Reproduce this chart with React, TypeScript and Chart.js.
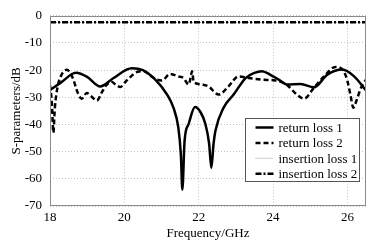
import React, { useEffect, useRef } from "react";
import { Chart, registerables } from "chart.js";

Chart.register(...registerables);

const seriesLabels = ["return loss 1", "return loss 2", "insertion loss 1", "insertion loss 2"];

const rl1Freq = [18.0, 18.3, 18.7, 19.0, 19.35, 19.7, 20.2, 20.5, 20.8, 21.15, 21.32, 21.45, 21.52, 21.56, 21.62, 21.73, 21.9, 22.05, 22.18, 22.28, 22.34, 22.4, 22.45, 22.67, 22.94, 23.26, 23.5, 23.7, 23.93, 24.15, 24.38, 24.74, 25.1, 25.46, 25.86, 26.18, 26.5];
const rl1Vals = [-27.4, -24.5, -21.0, -22.5, -26.0, -23.0, -19.3, -20.0, -23.0, -29.0, -33.8, -41, -51, -64, -46, -39.8, -33.6, -35.5, -39.8, -47, -56, -47, -42.3, -33.8, -29, -22.9, -21, -20.4, -21.7, -23.5, -25.3, -25.1, -26.3, -21.7, -19.8, -22.3, -27.5];

const rl2Freq = [18.0, 18.05, 18.09, 18.13, 18.2, 18.3, 18.45, 18.6, 18.76, 18.85, 18.99, 19.1, 19.26, 19.4, 19.53, 19.65, 19.78, 19.89, 20.05, 20.34, 20.52, 20.7, 20.88, 21.01, 21.23, 21.45, 21.59, 21.73, 21.78, 21.82, 21.86, 21.9, 22.1, 22.26, 22.54, 22.8, 23.07, 23.34, 23.7, 24.06, 24.2, 24.42, 24.6, 24.83, 25.1, 25.37, 25.68, 25.9, 26.0, 26.08, 26.16, 26.25, 26.35, 26.5];
const rl2Vals = [-25.5, -32, -43, -34, -26.5, -22, -19.9, -22.5, -28.8, -30.5, -28.4, -29.5, -31.2, -28, -25.3, -24.3, -25.5, -26.2, -24, -20.7, -20.4, -22, -23.5, -23.8, -21.4, -22.3, -22.9, -25.3, -23, -20.4, -24, -24.7, -25.3, -26, -29, -26, -22.3, -22.9, -23.5, -23.8, -24.2, -26, -28.5, -30.5, -26.5, -22.3, -18.8, -20.4, -24, -29, -33.8, -31, -27, -23.5];

const ilFreq = [18.0, 19.0, 20.0, 21.0, 22.0, 23.0, 24.0, 25.0, 26.0, 26.5];
const il1Vals = [-2.5, -2.5, -2.5, -2.5, -2.5, -2.5, -2.5, -2.5, -2.5, -2.5];
const il2Vals = [-2.4, -2.4, -2.4, -2.4, -2.4, -2.4, -2.4, -2.4, -2.4, -2.4];

const xTicks = [18, 20, 22, 24, 26];
const yTicks = [0, -10, -20, -30, -40, -50, -60, -70];

const FONT = "'Liberation Serif', 'Times New Roman', serif";

function pts(xs: number[], ys: number[]) {
  return xs.map((x, i) => ({ x, y: ys[i] }));
}

const boxPlugin = {
  id: "boxAndLegend",
  afterDatasetsDraw(chart: any) {
    const { ctx, chartArea } = chart;
    ctx.save();
    ctx.strokeStyle = "#8a8a8a";
    ctx.lineWidth = 1;
    ctx.strokeRect(
      Math.round(chartArea.left) + 0.5,
      Math.round(chartArea.top) + 0.5,
      Math.round(chartArea.right - chartArea.left) - 1,
      Math.round(chartArea.bottom - chartArea.top) - 1
    );
    // legend
    const bx = chartArea.right - 120.5;
    const by = chartArea.bottom - 87.5;
    const bw = 114;
    const bh = 63;
    ctx.fillStyle = "#ffffff";
    ctx.fillRect(bx, by, bw, bh);
    ctx.strokeStyle = "#555";
    ctx.strokeRect(bx, by, bw, bh);
    ctx.font = "13px " + FONT;
    ctx.textBaseline = "middle";
    ctx.textAlign = "left";
    chart.data.datasets.forEach((ds: any, i: number) => {
      const y = by + 9 + i * 15.4;
      ctx.beginPath();
      ctx.strokeStyle = ds.borderColor;
      ctx.lineWidth = ds.borderWidth;
      ctx.setLineDash(ds.borderDash || []);
      ctx.moveTo(bx + 10, y);
      ctx.lineTo(bx + 28, y);
      ctx.stroke();
      ctx.setLineDash([]);
      ctx.fillStyle = "#000";
      ctx.fillText(ds.label, bx + 33, y + 1);
    });
    ctx.restore();
  },
};

export default function App() {
  const ref = useRef<HTMLCanvasElement | null>(null);
  useEffect(() => {
    document.body.style.margin = "0";
    const canvas = ref.current;
    if (!canvas) return;
    const chart = new Chart(canvas, {
      type: "line",
      data: {
        datasets: [
          {
            label: seriesLabels[0],
            data: pts(rl1Freq, rl1Vals),
            borderColor: "#000",
            borderWidth: 2.5,
            pointRadius: 0,
            cubicInterpolationMode: "monotone",
            order: 2,
          },
          {
            label: seriesLabels[1],
            data: pts(rl2Freq, rl2Vals),
            borderColor: "#000",
            borderWidth: 2.5,
            borderDash: [5, 3],
            pointRadius: 0,
            cubicInterpolationMode: "monotone",
            order: 1,
          },
          {
            label: seriesLabels[2],
            data: pts(ilFreq, il1Vals),
            borderColor: "#9a9a9a",
            borderWidth: 1,
            borderDash: [1, 1],
            pointRadius: 0,
            order: 4,
          },
          {
            label: seriesLabels[3],
            data: pts(ilFreq, il2Vals),
            borderColor: "#000",
            borderWidth: 2.5,
            borderDash: [6, 2, 2, 2],
            pointRadius: 0,
            order: 3,
          },
        ],
      } as any,
      options: {
        animation: false,
        responsive: false,
        maintainAspectRatio: false,
        layout: { padding: { left: 0, right: 12, top: 14, bottom: 0 } },
        plugins: { legend: { display: false }, tooltip: { enabled: false } },
        scales: {
          x: {
            type: "linear",
            min: 18,
            max: 26.5,
            afterBuildTicks: (s: any) => {
              s.ticks = xTicks.map((v) => ({ value: v }));
            },
            afterFit: (s: any) => {
              s.height = 42;
            },
            ticks: { color: "#000", font: { family: FONT, size: 13 }, padding: 4, maxRotation: 0 },
            grid: { color: "#c4c4c4", drawTicks: false } as any,
            border: { display: false, dash: [1, 2] } as any,
            title: {
              display: true,
              text: "Frequency/GHz",
              color: "#000",
              font: { family: FONT, size: 13 },
              padding: { top: 7, bottom: 7 },
            },
          },
          y: {
            type: "linear",
            min: -70,
            max: 0,
            afterBuildTicks: (s: any) => {
              s.ticks = yTicks.map((v) => ({ value: v }));
            },
            afterFit: (s: any) => {
              s.width = 50;
            },
            ticks: { color: "#000", font: { family: FONT, size: 13 }, padding: 8 },
            grid: { color: "#c4c4c4", drawTicks: false } as any,
            border: { display: false, dash: [1, 2] } as any,
            title: {
              display: true,
              text: "S-parameters/dB",
              color: "#000",
              font: { family: FONT, size: 13 },
              padding: { top: 9, bottom: 9 },
            },
          },
        },
      } as any,
      plugins: [boxPlugin],
    });
    return () => chart.destroy();
  }, []);
  return (
    <div style={{ position: "fixed", left: 0, top: 0, width: 378, height: 248, background: "#fff" }}>
      <canvas ref={ref} width={378} height={248} style={{ width: 378, height: 248 }} />
    </div>
  );
}
